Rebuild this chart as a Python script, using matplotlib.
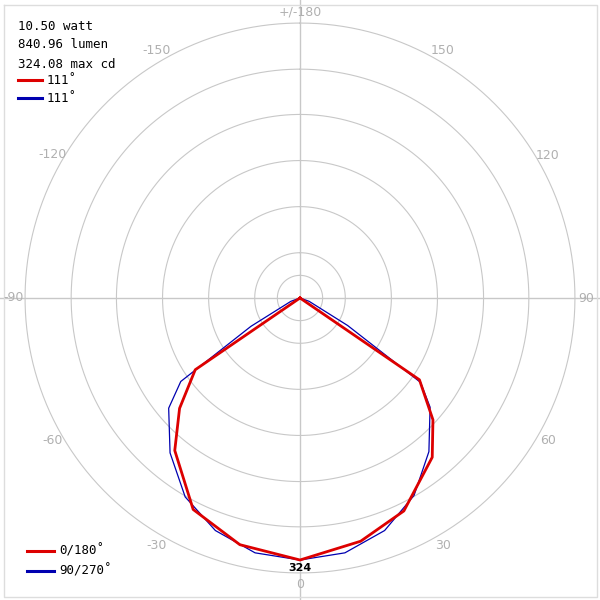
import numpy as np
import matplotlib
matplotlib.use("Agg")
import matplotlib.pyplot as plt

# 光强分布 (cd)，角度从下方 0° 起
red_angles = [-90, -55.6, -47.5, -39.4, -26.8, -13.7, 0, 14, 26, 39.7, 47.5, 55.6, 90]
red_values = [0, 157, 202, 244, 293, 314, 324, 310, 293, 256, 223, 179, 0]
blue_angles = [-90, -70, -60, -55, -50, -40, -30, -20, -10, 0, 10, 20, 30, 40, 50, 55, 60, 70, 90]
blue_values = [0, 12, 70, 180, 212, 250, 284, 306, 320, 324, 320, 306, 282, 248, 210, 182, 68, 12, 0]
rings = [28, 56, 113, 170, 227, 283, 340]
angle_labels = ['0', '30', '60', '90', '120', '150', '+/-180', '-150', '-120', '-90', '-60', '-30']
angle_pos = [0, 30, 60, 90, 120, 150, 180, 210, 240, 270, 300, 330]
info_lines = ['10.50 watt', '840.96 lumen', '324.08 max cd']

s = 262 / 324.0  # px per cd
fig = plt.figure(figsize=(6, 6), dpi=100)
ax = fig.add_axes([0, 0, 1, 1])
ax.set_xlim(-300 / s, 300 / s)
ax.set_ylim(-302 / s, 298 / s)
ax.set_aspect('equal')
ax.axis('off')

grey = '#c8c8c8'
t = np.linspace(0, 2 * np.pi, 400)
for r in rings:
    ax.plot(r * np.sin(t), r * np.cos(t), color=grey, lw=0.8)
ax.axhline(0, color=grey, lw=1)
ax.axvline(0, color=grey, lw=1)
# frame
ax.plot([-296 / s, 297 / s, 297 / s, -296 / s, -296 / s],
        [293 / s, 293 / s, -299 / s, -299 / s, 293 / s], color='#dddddd', lw=1)

lr = 286 / s
for lab, a in zip(angle_labels, angle_pos):
    ar = np.radians(a)
    ax.text(lr * np.sin(ar), -lr * np.cos(ar), lab, color='#b0b0b0',
            fontsize=9, ha='center', va='center', family='DejaVu Sans')

def xy(angles, vals):
    a = np.radians(angles)
    v = np.array(vals)
    return v * np.sin(a), -v * np.cos(a)

bx, by = xy(blue_angles, blue_values)
ax.plot(bx, by, color='#0000b0', lw=0.9)
rx, ry = xy(red_angles, red_values)
ax.plot(rx, ry, color='#dd0000', lw=2)

ax.text(0, -270 / s, '324', fontsize=8, fontweight='bold', ha='center', va='center')

mono = 'DejaVu Sans Mono'
for i, line in enumerate(info_lines):
    fig.text(0.03, 1 - (26 + 19 * i) / 600, line, fontsize=9, family=mono, va='center')
fig.add_artist(plt.Line2D([0.03, 0.07], [1 - 80 / 600] * 2, color='#dd0000', lw=2.2))
fig.add_artist(plt.Line2D([0.03, 0.07], [1 - 98 / 600] * 2, color='#0000b0', lw=2.2))
fig.text(0.078, 1 - 80 / 600, '111˚', fontsize=9, family=mono, va='center')
fig.text(0.078, 1 - 98 / 600, '111˚', fontsize=9, family=mono, va='center')

fig.add_artist(plt.Line2D([0.045, 0.09], [1 - 551 / 600] * 2, color='#dd0000', lw=2.2))
fig.add_artist(plt.Line2D([0.045, 0.09], [1 - 571 / 600] * 2, color='#0000b0', lw=2.2))
fig.text(0.098, 1 - 551 / 600, '0/180˚', fontsize=9, family=mono, va='center')
fig.text(0.098, 1 - 571 / 600, '90/270˚', fontsize=9, family=mono, va='center')

fig.savefig('out.png', dpi=100)
